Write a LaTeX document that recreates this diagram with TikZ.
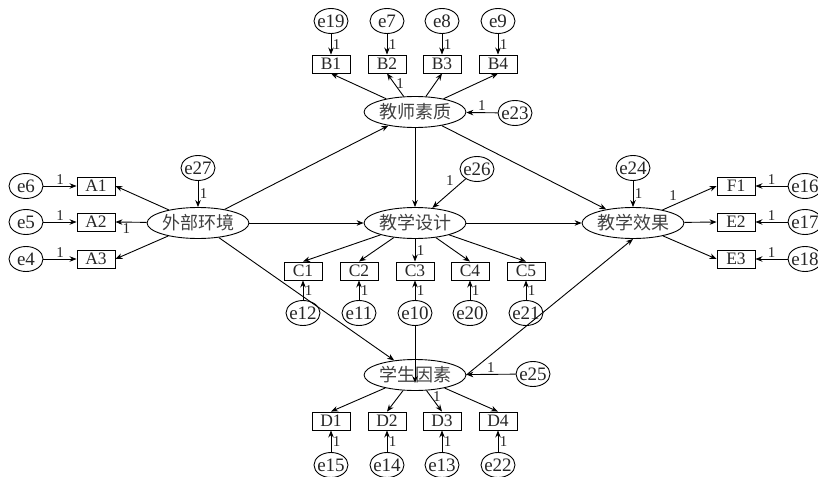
\documentclass[tikz,border=0pt]{standalone}
\usepackage{fontspec}
\setmainfont{Liberation Serif}
\newfontfamily\cjk{Noto Sans CJK SC}
\usetikzlibrary{shapes.geometric,arrows.meta}
\begin{document}
\begin{tikzpicture}[x=1pt,y=-1pt,
  lat/.style={draw,ellipse,minimum width=98pt,minimum height=31pt,inner sep=0pt,line width=0.9pt,text=black!75,font=\cjk\fontsize{18}{18}\selectfont},
  obs/.style={draw,rectangle,minimum width=38pt,minimum height=18pt,inner sep=0pt,line width=0.9pt,fill=white,text=black!85,font=\fontsize{17.5}{17.5}\selectfont},
  err/.style={draw,ellipse,minimum width=34pt,minimum height=25pt,inner xsep=-6pt,inner ysep=-5pt,line width=0.9pt,fill=white,text=black!85,font=\fontsize{19}{19}\selectfont},
  arr/.style={-{Stealth[length=7pt,width=5.5pt]},line width=0.9pt},
  one/.style={font=\fontsize{15}{15}\selectfont,inner sep=1.5pt,text=black!85}]
\useasboundingbox (0,0) rectangle (818,476);

% latent variables
\node[lat] (ts) at (415,112) {教师素质};
\node[lat] (wb) at (198,223) {外部环境};
\node[lat] (td) at (415,223) {教学设计};
\node[lat] (xg) at (633,223) {教学效果};
\node[lat] (xs) at (415,375) {学生因素};

% B row
\node[obs] (B1) at (331,64) {B1};
\node[obs] (B2) at (387,64) {B2};
\node[obs] (B3) at (442,64) {B3};
\node[obs] (B4) at (498,64) {B4};
\node[err] (e19) at (331,21) {e19};
\node[err] (e7) at (387,21) {e7};
\node[err] (e8) at (442,21) {e8};
\node[err] (e9) at (498,21) {e9};
\node[err] (e23) at (515,113) {e23};

% A column
\node[obs] (A1) at (96,186) {A1};
\node[obs] (A2) at (96,222) {A2};
\node[obs] (A3) at (96,259) {A3};
\node[err] (e6) at (26,186) {e6};
\node[err] (e5) at (26,222) {e5};
\node[err] (e4) at (26,259) {e4};
\node[err] (e27) at (198,168) {e27};

% C row
\node[obs] (C1) at (303,271) {C1};
\node[obs] (C2) at (359,271) {C2};
\node[obs] (C3) at (415,271) {C3};
\node[obs] (C4) at (470,271) {C4};
\node[obs] (C5) at (526,271) {C5};
\node[err] (e12) at (303,313) {e12};
\node[err] (e11) at (359,313) {e11};
\node[err] (e10) at (415,313) {e10};
\node[err] (e20) at (470,313) {e20};
\node[err] (e21) at (526,313) {e21};
\node[err] (e26) at (477,169) {e26};

% right column
\node[obs] (F1) at (736,186) {F1};
\node[obs] (E2) at (736,222) {E2};
\node[obs] (E3) at (736,259) {E3};
\node[err] (e16) at (805,186) {e16};
\node[err] (e17) at (805,222) {e17};
\node[err] (e18) at (805,259) {e18};
\node[err] (e24) at (633,168) {e24};

% D row
\node[obs] (D1) at (331,421) {D1};
\node[obs] (D2) at (387,421) {D2};
\node[obs] (D3) at (442,421) {D3};
\node[obs] (D4) at (498,421) {D4};
\node[err] (e15) at (331,465) {e15};
\node[err] (e14) at (387,465) {e14};
\node[err] (e13) at (442,465) {e13};
\node[err] (e22) at (498,465) {e22};
\node[err] (e25) at (533,374) {e25};

% structural paths
\draw[arr] (wb) -- (ts);
\draw[arr] (wb) -- (td);
\draw[arr] (wb) -- (xs);
\draw[arr] (ts) -- (td);
\draw[arr] (ts) -- (xg);
\draw[arr] (td) -- (xg);
\draw[arr] (xs.east) -- (xg.south);
\draw[arr] (e10) -- ([yshift=-8pt]xs.center);

% teacher
\draw[arr] (ts) -- (B1.south);
\draw[arr] (ts) -- node[one,pos=0.55,right]{1} (B2.south);
\draw[arr] (ts) -- (B3.south);
\draw[arr] (ts) -- (B4.south);
\draw[arr] (e19) -- node[one,right]{1} (B1);
\draw[arr] (e7) -- node[one,right]{1} (B2);
\draw[arr] (e8) -- node[one,right]{1} (B3);
\draw[arr] (e9) -- node[one,right]{1} (B4);
\draw[arr] (e23) -- node[one,above]{1} (ts);

% environment
\draw[arr] (wb) -- (A1.east);
\draw[arr] (wb) -- node[one,pos=0.65,below]{1} (A2.east);
\draw[arr] (wb) -- (A3.east);
\draw[arr] (e6) -- node[one,above]{1} (A1);
\draw[arr] (e5) -- node[one,above]{1} (A2);
\draw[arr] (e4) -- node[one,above]{1} (A3);
\draw[arr] (e27) -- node[one,right]{1} (wb);

% design
\draw[arr] (td) -- (C1.north);
\draw[arr] (td) -- (C2.north);
\draw[arr] (td) -- node[one,right]{1} (C3.north);
\draw[arr] (td) -- (C4.north);
\draw[arr] (td) -- (C5.north);
\draw[arr] (e12) -- node[one,right]{1} (C1);
\draw[arr] (e11) -- node[one,right]{1} (C2);
\draw[arr] (e10) -- node[one,right]{1} (C3);
\draw[arr] (e20) -- node[one,right]{1} (C4);
\draw[arr] (e21) -- node[one,right]{1} (C5);
\draw[arr] (e26) -- node[one,pos=0.3,above left]{1} (td);

% effect
\draw[arr] (xg) -- node[one,pos=0.3,above left]{1} (F1.west);
\draw[arr] (xg) -- (E2.west);
\draw[arr] (xg) -- (E3.west);
\draw[arr] (e16) -- node[one,above]{1} (F1);
\draw[arr] (e17) -- node[one,above]{1} (E2);
\draw[arr] (e18) -- node[one,above]{1} (E3);
\draw[arr] (e24) -- node[one,right]{1} (xg);

% students
\draw[arr] (xs) -- (D1.north);
\draw[arr] (xs) -- (D2.north);
\draw[arr] (xs) -- node[one,pos=0.3,right]{1} (D3.north);
\draw[arr] (xs) -- (D4.north);
\draw[arr] (e15) -- node[one,right]{1} (D1);
\draw[arr] (e14) -- node[one,right]{1} (D2);
\draw[arr] (e13) -- node[one,right]{1} (D3);
\draw[arr] (e22) -- node[one,right]{1} (D4);
\draw[arr] (e25) -- node[one,above]{1} (xs);
\end{tikzpicture}
\end{document}
